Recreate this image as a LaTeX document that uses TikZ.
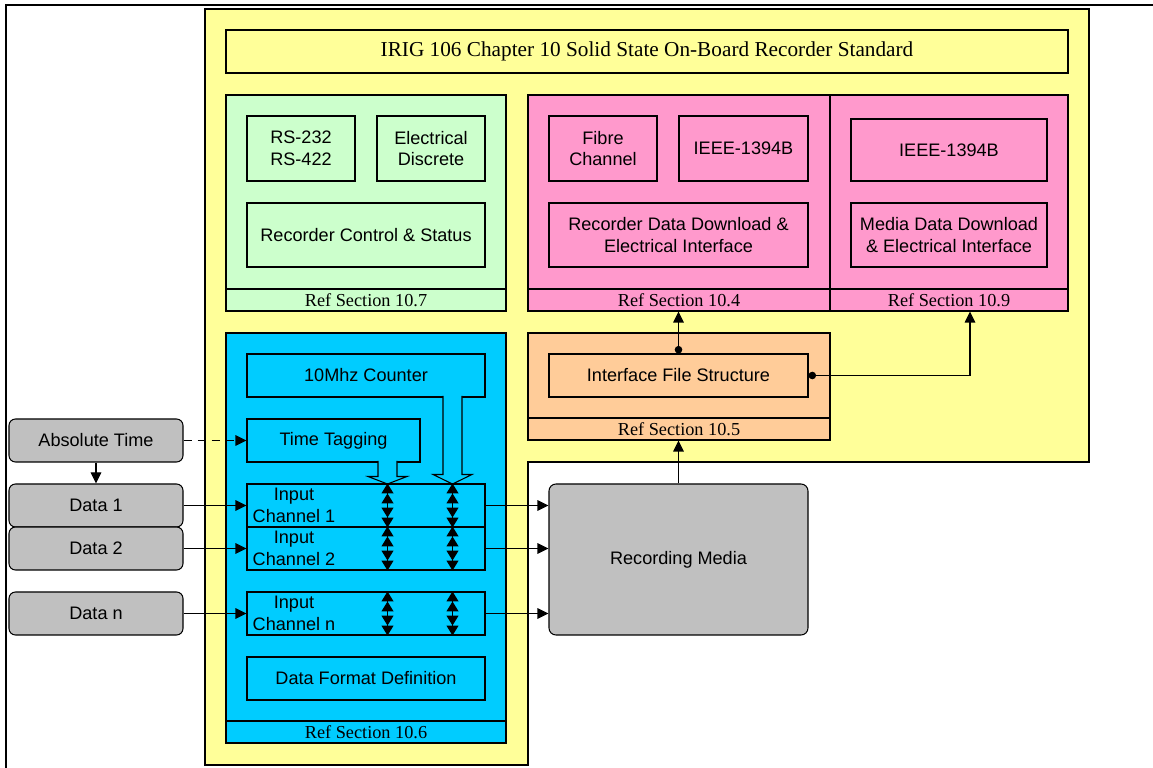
\documentclass[tikz,border=0pt]{standalone}
\usepackage{fontspec}
\setmainfont{Liberation Serif}
\setsansfont{Liberation Sans}
\usetikzlibrary{arrows.meta,positioning}
\definecolor{yel}{HTML}{FFFF99}
\definecolor{grn}{HTML}{CCFFCC}
\definecolor{pnk}{HTML}{FF99CC}
\definecolor{org}{HTML}{FFCC99}
\definecolor{blu}{HTML}{00CCFF}
\definecolor{gry}{HTML}{C0C0C0}

\begin{document}
\begin{tikzpicture}[
  x=0.2mm, y=0.2mm,
  panel/.style={draw, line width=0.6pt, inner sep=0pt},
  box/.style={draw, line width=0.6pt, align=center, minimum height=8.6mm, inner sep=1pt, font=\sffamily\fontsize{10.3}{12.4}\selectfont},
  lbl/.style={align=center, inner sep=0pt, font=\sffamily\fontsize{10.3}{12.4}\selectfont},
  refrow/.style={draw, line width=0.6pt, minimum height=4.4mm, inner sep=0pt, anchor=south, font=\rmfamily\fontsize{10.4}{12}\selectfont},
  src/.style={box, rounded corners=1.3mm, fill=gry, minimum width=34.8mm},
  arr/.style={-{Triangle[length=2.2mm,width=2.1mm]}, line width=0.6pt},
  dotarr/.style={{Circle[length=1.5mm]}-{Triangle[length=2.2mm,width=2.1mm]}, line width=0.6pt},
  dbl/.style={{Triangle[length=2mm,width=2.4mm,sep=0pt] Triangle[length=2mm,width=2.4mm,sep=0pt]}-{Triangle[length=2mm,width=2.4mm,sep=0pt] Triangle[length=2mm,width=2.4mm,sep=0pt]}, line width=0.6pt}
]
\useasboundingbox (0,0) rectangle (1153,-768);
% page frame
\draw[line width=1.1pt] (6,-768) -- (6,-5) -- (1153,-5);
% recorder standard area
\draw[line width=0.6pt, fill=yel] (205,-9) -- (1089,-9) -- (1089,-462) -- (528,-462) -- (528,-765) -- (205,-765) -- cycle;
\node[panel, fill=yel, minimum width=168.4mm, minimum height=8.6mm, font=\rmfamily\fontsize{12.1}{14}\selectfont] (title) at (647,-51.5) {IRIG 106 Chapter 10 Solid State On-Board Recorder Standard};

% control and status
\node[panel, fill=grn, minimum width=56mm, minimum height=43.2mm] (ctl) at (366,-203) {};
\node[refrow, fill=grn, minimum width=56mm] (ref7) at (ctl.south) {Ref Section 10.7};
\node[box, fill=grn, minimum width=21.6mm, minimum height=13mm] (rs) at (301,-148.5) {RS-232\\RS-422};
\node[box, fill=grn, minimum width=21.6mm, minimum height=13mm] (disc) at (431,-148.5) {Electrical\\Discrete};
\node[box, fill=grn, minimum width=47.6mm, minimum height=12.8mm] (rcs) at (366,-235) {Recorder Control \& Status};

% recorder download
\node[panel, fill=pnk, minimum width=60.4mm, minimum height=43.2mm] (dl) at (679,-203) {};
\node[refrow, fill=pnk, minimum width=60.4mm] (ref4) at (dl.south) {Ref Section 10.4};
\node[box, fill=pnk, minimum width=21.6mm, minimum height=13mm] (fc) at (603,-148.5) {Fibre\\Channel};
\node[box, fill=pnk, minimum width=25.8mm, minimum height=13mm] (fw) at (743.5,-148.5) {IEEE-1394B};
\node[box, fill=pnk, minimum width=51.8mm, minimum height=12.8mm] (rdd) at (678.5,-235) {Recorder Data Download \&\\Electrical Interface};

% media download
\node[panel, fill=pnk, minimum width=47.6mm, minimum height=43.2mm] (md) at (949,-203) {};
\node[refrow, fill=pnk, minimum width=47.6mm] (ref9) at (md.south) {Ref Section 10.9};
\node[box, fill=pnk, minimum width=39.2mm, minimum height=12.4mm] (fw2) at (949,-150) {IEEE-1394B};
\node[box, fill=pnk, minimum width=39.2mm, minimum height=12.8mm] (mdd) at (949,-235) {Media Data Download\\\& Electrical Interface};

% interface file structure
\node[panel, fill=org, minimum width=60.4mm, minimum height=21.4mm] (ifp) at (679,-386.5) {};
\node[refrow, fill=org, minimum width=60.4mm] (ref5) at (ifp.south) {Ref Section 10.5};
\node[box, fill=org, minimum width=51.8mm] (ifs) at (678.5,-375.5) {Interface File Structure};

% data formats
\node[panel, fill=blu, minimum width=56mm, minimum height=82mm] (fmt) at (366,-538) {};
\node[refrow, fill=blu, minimum width=56mm] (ref6) at (fmt.south) {Ref Section 10.6};
\node[box, fill=blu, minimum width=47.6mm] (ctr) at (366,-375.5) {10Mhz Counter};
\node[box, fill=blu, minimum width=34.6mm] (tt) at (333.5,-440.5) {Time Tagging};
\filldraw[fill=blu, line width=0.6pt] (443,-396) -- (443,-474.5) -- (433,-474.5) -- (452.5,-484) -- (472,-474.5) -- (462,-474.5) -- (462,-396);
\filldraw[fill=blu, line width=0.6pt] (378,-461) -- (378,-476.5) -- (368,-476.5) -- (387.5,-484) -- (407,-476.5) -- (397,-476.5) -- (397,-461);
\node[box, fill=blu, minimum width=47.6mm] (ch1) at (366,-505.5) {};
\node[box, fill=blu, minimum width=47.6mm] (ch2) at (366,-548.5) {};
\node[box, fill=blu, minimum width=47.6mm] (chn) at (366,-613.5) {};
\node[lbl] (ch1t) at (294,-505.5) {Input\\Channel 1};
\node[lbl] (ch2t) at (294,-548.5) {Input\\Channel 2};
\node[lbl] (chnt) at (294,-613.5) {Input\\Channel n};
\node[box, fill=blu, minimum width=47.6mm] (dfd) at (366,-678.5) {Data Format Definition};
\coordinate (tap1) at (387.5,0);
\coordinate (tap2) at (452.5,0);
\foreach \c in {ch1,ch2,chn}{
  \draw[dbl] (\c.north -| tap1) -- (\c.south -| tap1);
  \draw[dbl] (\c.north -| tap2) -- (\c.south -| tap2);
}

% sources
\node[src] (abs) at (96,-440.5) {Absolute Time};
\node[src] (d1) at (96,-505.5) {Data 1};
\node[src] (d2) at (96,-548.5) {Data 2};
\node[src] (dn) at (96,-613.5) {Data n};
\node[box, rounded corners=1.4mm, fill=gry, minimum width=51.8mm, minimum height=30.2mm] (rec) at (678.5,-559.5) {Recording Media};

\draw[arr, dash pattern=on 1.6mm off 1.2mm] (abs) -- (tt);
\draw[arr] (abs) -- (d1);
\draw[arr] (d1) -- (ch1);
\draw[arr] (d2) -- (ch2);
\draw[arr] (dn) -- (chn);
\draw[arr] (ch1.east) -- (ch1.east -| rec.west);
\draw[arr] (ch2.east) -- (ch2.east -| rec.west);
\draw[arr] (chn.east) -- (chn.east -| rec.west);
\draw[arr] (rec.north) -- (rec.north |- ifp.south);
\draw[dotarr] (ifs.north) -- (ifs.north |- dl.south);
\draw[dotarr] (ifs.east) -| ([xshift=4.2mm]md.south);
\end{tikzpicture}
\end{document}
